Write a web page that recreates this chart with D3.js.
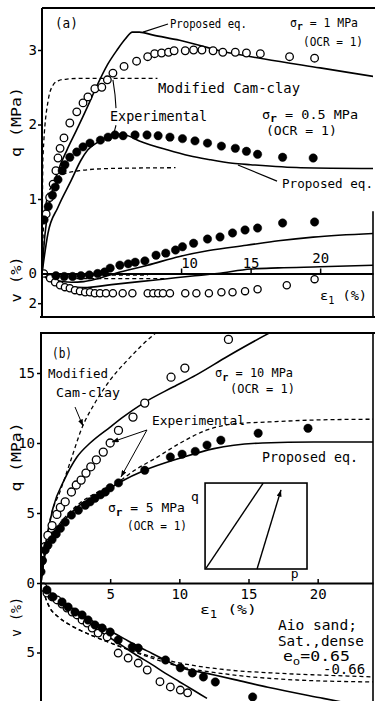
<!DOCTYPE html>
<html><head><meta charset="utf-8">
<script src="https://cdn.jsdelivr.net/npm/d3@7"></script>
<style>
body{margin:0;background:#fff;}
svg{display:block;background:#fff;}
text{font-family:"DejaVu Sans Mono","Liberation Mono",monospace;fill:#000;}
</style></head><body>
<svg id="c" width="375" height="701"></svg>
<script>
// ---------------- DATA ----------------
// Panel (a): q and v vs eps1
const aEpsTicks=[10,15,20], aQTicks=[1,2,3], aVTicks=[0,2];
// sigma_r = 1 MPa, experimental (open)
const aOpenEps=[0.3,0.55,0.8,1.0,1.15,1.3,1.58,2.0,2.5,2.95,3.3,3.8,4.3,4.7,5.1,5.9,6.8,7.6,8.1,8.6,9.1,9.5,10.3,10.9,11.5,12.3,13.0,13.9,14.7,15.7,17.8,19.6];
const aOpenQ=[0.8,1.02,1.2,1.38,1.55,1.68,1.82,2.02,2.17,2.29,2.37,2.48,2.5,2.6,2.69,2.78,2.85,2.91,2.95,2.96,2.97,2.99,2.99,3.0,3.0,2.99,2.97,2.97,2.96,2.95,2.91,2.89];
const aOpenVEps=[0.14,0.58,0.94,1.3,1.65,2.0,2.37,2.73,3.1,3.45,3.8,4.17,4.6,5.1,5.8,6.5,7.6,8.0,8.35,8.7,9.2,10.3,11.1,12.0,12.9,13.7,14.6,15.5,17.6,19.6];
const aOpenV=[0,0.32,0.59,0.79,0.92,0.99,1.12,1.19,1.26,1.26,1.33,1.33,1.33,1.33,1.33,1.33,1.33,1.33,1.33,1.33,1.33,1.33,1.33,1.33,1.26,1.26,1.19,1.06,0.79,0.38];
// sigma_r = 0.5 MPa, experimental (filled)
const aFillEps=[0.15,0.45,0.75,0.95,1.15,1.45,1.65,2.0,2.5,2.95,3.45,4.2,4.75,5.25,5.83,6.69,7.55,8.35,9.2,10.1,11.0,11.9,12.9,13.9,14.7,15.5,17.3,19.5];
const aFillQ=[0.72,0.9,1.05,1.16,1.26,1.38,1.46,1.56,1.63,1.70,1.75,1.79,1.83,1.86,1.85,1.86,1.86,1.85,1.83,1.81,1.78,1.75,1.71,1.68,1.64,1.60,1.56,1.55];
const aFillVEps=[1.0,1.6,2.2,2.8,3.4,4.0,4.5,4.9,5.6,6.2,6.7,7.4,8.2,8.9,9.6,10.1,10.9,11.9,12.8,13.7,14.6,15.5,17.3,19.6];
const aFillV=[0.15,0.2,0.2,0.15,0.1,0.0,-0.1,-0.36,-0.56,-0.65,-0.76,-0.85,-1.23,-1.37,-1.58,-1.8,-2.04,-2.32,-2.46,-2.73,-2.93,-3.06,-3.4,-3.47];
// proposed eq. (solid)
const aProp1Eps=[0,0.2,0.6,1.2,1.8,2.5,3.3,3.9,4.7,5.4,6.0,6.5,7.0,8,9.9,13,16,20,24];
const aProp1Q=[0,0.5,1.0,1.4,1.66,1.93,2.25,2.5,2.8,3.0,3.15,3.24,3.24,3.2,3.13,2.98,2.88,2.76,2.64];
const aProp05Eps=[0,0.43,1.15,2.1,2.8,3.3,4.0,4.7,5.4,6.0,7.0,9.0,10.6,12,13.7,15,18.6,24];
const aProp05Q=[0,0.54,0.89,1.25,1.52,1.66,1.76,1.83,1.87,1.86,1.78,1.66,1.58,1.53,1.48,1.46,1.42,1.41];
const aProp1VEps=[0,0.5,1,2,3,5,7,9,11,12.6,15,17,20,24];
const aProp1V=[0,0.45,0.7,0.92,0.95,0.75,0.55,0.35,0.15,0,-0.3,-0.38,-0.45,-0.56];
const aProp05VEps=[0,0.5,1,2.1,3,4,5.25,6.5,7.6,9.9,12,14.7,17,19.5,24];
const aProp05V=[0,0.3,0.45,0.59,0.55,0.35,0,-0.3,-0.56,-1.15,-1.55,-1.9,-2.2,-2.45,-2.7];
// modified Cam-clay (dashed)
const aCam1Eps=[0,0.07,0.45,0.8,1.2,1.8,3,5,8.3];
const aCam1Q=[0,1.56,2.33,2.53,2.59,2.61,2.62,2.62,2.62];
const aCam05Eps=[0,0.1,0.3,0.7,1.2,1.65,2.7,5,9.6];
const aCam05Q=[0,0.6,0.95,1.18,1.3,1.34,1.38,1.41,1.42];
const aCam1VEps=[0,0.5,1,2,3,5,9.0];
const aCam1V=[0,0.2,0.28,0.33,0.35,0.35,0.35];
const aCam05VEps=[0,0.5,1,2,4,7.6];
const aCam05V=[0,0.06,0.08,0.1,0.1,0.1];

// Panel (b)
const bEpsTicks=[5,10,15,20], bQTicks=[0,5,10,15], bVTicks=[5];
const bOpenEps=[0.07,0.3,0.5,0.8,1.15,1.4,1.75,2.2,2.55,2.9,3.25,3.6,4.0,4.5,5.0,5.6,6.65,7.5,9.4,10.4,13.55];
const bOpenQ=[1.6,2.6,3.4,4.1,4.9,5.4,5.8,6.5,7.0,7.35,7.85,8.3,8.8,9.35,10.0,10.9,11.85,12.85,14.7,15.35,17.4];
const bFillEps=[0.0,0.1,0.3,0.5,0.8,1.1,1.4,1.75,2.2,2.7,3.2,3.55,3.9,4.3,4.65,5.0,5.6,7.5,9.35,10.2,11.15,12.0,13.0,15.7,19.3];
const bFillQ=[0.8,1.6,2.35,2.7,3.1,3.5,3.9,4.35,4.85,5.2,5.55,5.8,6.05,6.3,6.5,6.8,7.15,8.05,9.0,9.2,9.4,9.85,10.2,10.7,11.05];
const bOpenVEps=[0.15,0.43,0.8,1.16,1.52,1.88,2.25,2.6,2.97,3.33,3.7,4.13,4.78,5.58,6.3,7.03,7.68,8.6,9.35,10.07,10.6];
const bOpenV=[0.29,0.72,1.0,1.22,1.51,1.8,2.09,2.3,2.66,2.88,3.24,3.6,3.88,5.04,5.4,5.76,6.26,7.1,7.48,7.7,7.9];
const bFillVEps=[0.43,0.87,1.52,1.96,2.46,2.97,3.4,3.9,4.42,5.0,5.58,6.6,7.03,9.0,10.07,10.94,11.74,12.6,15.3];
const bFillV=[0.5,1.0,1.37,1.73,2.09,2.3,2.66,3.02,3.24,3.53,4.1,4.6,4.68,5.54,6.1,6.47,6.76,7.12,8.2];
const bProp10Eps=[0,0.3,0.87,1.7,2.6,3.55,5,6,7.4,9.55,11.2,13.5,16.6,18];
const bProp10Q=[0,2.5,5.36,7.4,9.0,10.0,11.14,11.9,12.85,14.0,14.85,16.2,17.9,18.6];
const bProp5Eps=[0,0.2,0.5,1.4,2.8,4.3,5.7,7.5,10.1,12.5,16,19.7,24.2];
const bProp5Q=[0,1.5,2.86,4.14,5.57,6.36,7.2,8.05,8.93,9.6,10.0,10.07,10.07];
const bCam10Eps=[0,0.3,0.65,1.4,2.1,2.97,3.9,5.0,6.23,7.17,8.3,9];
const bCam10Q=[0,2.5,4.5,6.6,8.6,11.1,12.86,14.5,15.9,16.86,17.86,18.4];
const bCam5Eps=[0,0.2,0.5,1.4,2.8,4.3,5.7,6.8,8.3,10.07,12,13.9,16.4,19.7,24.2];
const bCam5Q=[0,1.6,3.0,4.3,5.7,6.6,7.3,8.07,8.93,10.0,10.93,11.36,11.5,11.64,11.7];
const bProp5VEps=[0,0.5,1,2,3,4,5,6,7,8,9,10,12,14,16.4,20.4,24];
const bProp5V=[0,0.6,1.1,1.75,2.3,2.9,3.45,4.0,4.55,5.05,5.55,6.05,6.5,6.95,7.5,8.3,9];
const bProp10VEps=[0,0.5,1,2,3,4,5,6,7,8,9,10,11,12];
const bProp10V=[0,0.8,1.25,1.95,2.6,3.3,3.95,4.6,5.25,5.85,6.5,7.1,7.7,8.3];
const bCamAVEps=[0,0.3,0.65,1.2,2.25,3.5,5,7,10,13,17.3,21,24.2];
const bCamAV=[0,1.0,1.8,2.4,3.1,3.7,4.3,5.0,5.75,6.2,6.5,6.65,6.76];
const bCamBVEps=[0,0.3,0.65,1.2,2.25,3.5,5,7,10,13,18.5,24.2];
const bCamBV=[0,1.0,1.8,2.4,3.1,3.7,4.3,5.05,6.0,6.5,6.98,7.12];

// ---------------- DRAWING ----------------
const svg=d3.select('#c');
const FONT='"DejaVu Sans Mono","Liberation Mono",monospace';
const xA=d3.scaleLinear().domain([0,23.8]).range([42,373]);
const qA=d3.scaleLinear().domain([0,3]).range([273.5,50]);
const vA=d3.scaleLinear().domain([0,2]).range([273.5,303.2]);
const xB=d3.scaleLinear().domain([0,24]).range([41,373]);
const qB=d3.scaleLinear().domain([0,15]).range([583,373]);
const vB=d3.scaleLinear().domain([0,5]).range([583,652.5]);
const topA=8, botA=317, topB=333, botB=701;
const fmt=d3.format('d');

const defs=svg.append('defs');
defs.append('clipPath').attr('id','clA').append('rect')
  .attr('x',xA(0)).attr('y',topA).attr('width',xA.range()[1]-xA(0)).attr('height',botA-topA);
defs.append('clipPath').attr('id','clB').append('rect')
  .attr('x',xB(0)).attr('y',topB).attr('width',xB.range()[1]-xB(0)).attr('height',botB-topB);
defs.append('marker').attr('id','arr').attr('viewBox','0 0 8 6').attr('refX',8).attr('refY',3)
  .attr('markerWidth',7).attr('markerHeight',5).attr('markerUnits','userSpaceOnUse').attr('orient','auto')
  .append('path').attr('d','M0,0L8,3L0,6z').attr('fill','#000');

const gA=svg.append('g').attr('clip-path','url(#clA)');
const gB=svg.append('g').attr('clip-path','url(#clB)');

function curve(g,xs,ys,xs_,ys_,dashed){
  const pts=xs.map((e,i)=>[e,ys[i]]);
  g.append('path').datum(pts)
    .attr('d',d3.line().x(d=>xs_(d[0])).y(d=>ys_(d[1])).curve(d3.curveMonotoneX))
    .attr('fill','none').attr('stroke','#000').attr('stroke-width',dashed?1.3:1.6)
    .attr('stroke-dasharray',dashed?'4,3':null);
}
function dots(g,xs,ys,xs_,ys_,filled,r){
  g.selectAll(null).data(xs.map((e,i)=>[e,ys[i]])).enter().append('circle')
    .attr('cx',d=>xs_(d[0])).attr('cy',d=>ys_(d[1])).attr('r',r)
    .attr('fill',filled?'#000':'#fff').attr('stroke','#000').attr('stroke-width',filled?0.5:1.3);
}
function seg(g,p,xs_,ys_,arrow,w){
  g.append('path').datum(p).attr('d',d3.line().x(d=>xs_(d[0])).y(d=>ys_(d[1])))
   .attr('fill','none').attr('stroke','#000').attr('stroke-width',w||1.1)
   .attr('marker-end',arrow?'url(#arr)':null);
}
function txt(x,y,s,size,len,anchor){
  const t=svg.append('text').attr('x',x).attr('y',y).attr('font-size',size).attr('text-anchor',anchor||'start').text(s);
  if(len) t.attr('textLength',len).attr('lengthAdjust','spacingAndGlyphs');
  return t;
}
function subTxt(x,y,a,sub,rest,size,len,bold=true){
  const t=svg.append('text').attr('x',x).attr('y',y).attr('font-size',size);
  t.append('tspan').text(a);
  t.append('tspan').attr('dy',size*0.28).attr('font-size',size*(bold?0.85:0.75)).attr('font-weight',bold?'bold':null).text(sub);
  t.append('tspan').attr('dy',-size*0.28).text(rest);
  if(len) t.attr('textLength',len).attr('lengthAdjust','spacingAndGlyphs');
  return t;
}
function rotTxt(x,y,s,size,len){
  svg.append('text').attr('transform',`translate(${x},${y}) rotate(-90)`).attr('text-anchor','middle')
    .attr('font-size',size).attr('textLength',len).attr('lengthAdjust','spacingAndGlyphs').text(s);
}
function styleAxis(g,size){
  g.attr('font-family',FONT).attr('font-size',size);
  g.selectAll('line').attr('stroke','#000').attr('stroke-width',1.5);
  g.selectAll('path.domain').attr('stroke','#000').attr('stroke-width',1.8);
  g.selectAll('text').attr('fill','#000');
}

// ---- Panel (a) curves
curve(gA,aCam1Eps,aCam1Q,xA,qA,true);
curve(gA,aCam05Eps,aCam05Q,xA,qA,true);
curve(gA,aCam1VEps,aCam1V,xA,vA,true);
curve(gA,aCam05VEps,aCam05V,xA,vA,true);
curve(gA,aProp1Eps,aProp1Q,xA,qA,false);
curve(gA,aProp05Eps,aProp05Q,xA,qA,false);
curve(gA,aProp1VEps,aProp1V,xA,vA,false);
curve(gA,aProp05VEps,aProp05V,xA,vA,false);
dots(gA,aOpenEps,aOpenQ,xA,qA,false,3.8);
dots(gA,aOpenVEps,aOpenV,xA,vA,false,3.6);
dots(gA,aFillEps,aFillQ,xA,qA,true,4.2);
dots(gA,aFillVEps,aFillV,xA,vA,true,4.2);

// ---- Panel (a) axes
const axAx=svg.append('g').attr('transform',`translate(0,${qA(0)})`)
  .call(d3.axisTop(xA).tickValues(aEpsTicks).tickFormat(fmt).tickSizeInner(5).tickSizeOuter(0).tickPadding(1));
styleAxis(axAx,14);
axAx.selectAll('.tick text').attr('dx',d=>d===10?8:0).attr('dy',d=>d===20?-5:0);
const axAq=svg.append('g').attr('transform',`translate(${xA(0)},0)`)
  .call(d3.axisLeft(qA).tickValues(aQTicks).tickFormat(fmt).tickSize(4).tickPadding(1));
styleAxis(axAq,14); axAq.select('.domain').remove();
const axAv=svg.append('g').attr('transform',`translate(${xA(0)},0)`)
  .call(d3.axisLeft(vA).tickValues(aVTicks).tickFormat(fmt).tickSize(4).tickPadding(1));
styleAxis(axAv,14); axAv.select('.domain').remove();
axAv.selectAll('.tick line').filter(d=>d===0).remove();

// frame (a)
const frame=(x1,y1,x2,y2,w)=>svg.append('line').attr('x1',x1).attr('y1',y1).attr('x2',x2).attr('y2',y2)
  .attr('stroke','#000').attr('stroke-width',w||2);
frame(xA(0),topA,375,topA,2.2);
frame(xA(0),topA,xA(0),botA,2);
frame(40,botA,375,botA,2.2);
frame(373,vA(-4.2),373,botA,1.6);

// ---- Panel (a) labels
txt(xA(0.93),qA(3.295),'(a)',14,23);
txt(xA(9.2),qA(3.30),'Proposed eq.',13,77);
seg(svg,[[7.26,3.24],[9.06,3.35]],xA,qA,false);
subTxt(xA(17.83),qA(3.31),'σ','r',' = 1 MPa',12,68);
txt(xA(18.77),qA(3.05),'(OCR = 1)',12,60);
txt(xA(8.34),qA(2.42),'Modified Cam-clay',13.5,142);
txt(xA(4.89),qA(2.05),'Experimental',13.5,97);
seg(svg,[[5.32,2.22],[5.25,2.4],[5.1,2.6]],xA,qA,false);
seg(svg,[[5.32,1.99],[5.18,1.89]],xA,qA,false);
subTxt(xA(15.82),qA(2.075),'σ','r',' = 0.5 MPa',12,96);
txt(xA(16.1),qA(1.86),'(OCR = 1)',12,71);
txt(xA(17.26),qA(1.148),'Proposed eq.',13,91);
seg(svg,[[14.09,1.456],[16.9,1.24]],xA,qA,false);
subTxt(xA(19.99),vA(1.785),'ε','1','  (%)',13,47,false);
rotTxt(21,qA(2.034),'q  (MPa)',14,70);
rotTxt(21,vA(0.4),'v (%)',14,46);

// ---- Panel (b) curves
curve(gB,bCam10Eps,bCam10Q,xB,qB,true);
curve(gB,bCam5Eps,bCam5Q,xB,qB,true);
curve(gB,bCamAVEps,bCamAV,xB,vB,true);
curve(gB,bCamBVEps,bCamBV,xB,vB,true);
curve(gB,bProp10Eps,bProp10Q,xB,qB,false);
curve(gB,bProp5Eps,bProp5Q,xB,qB,false);
curve(gB,bProp10VEps,bProp10V,xB,vB,false);
curve(gB,bProp5VEps,bProp5V,xB,vB,false);
dots(gB,bOpenEps,bOpenQ,xB,qB,false,4);
dots(gB,bOpenVEps,bOpenV,xB,vB,false,3.8);
dots(gB,bFillEps,bFillQ,xB,qB,true,4.2);
dots(gB,bFillVEps,bFillV,xB,vB,true,4.2);

// ---- Panel (b) axes
const axBx=svg.append('g').attr('transform',`translate(0,${qB(0)})`)
  .call(d3.axisBottom(xB).tickValues(bEpsTicks).tickFormat(fmt).tickSizeInner(-4).tickSizeOuter(0).tickPadding(6));
styleAxis(axBx,14);
const axBq=svg.append('g').attr('transform',`translate(${xB(0)},0)`)
  .call(d3.axisLeft(qB).tickValues(bQTicks).tickFormat(fmt).tickSize(4).tickPadding(2));
styleAxis(axBq,14); axBq.select('.domain').remove();
const axBv=svg.append('g').attr('transform',`translate(${xB(0)},0)`)
  .call(d3.axisLeft(vB).tickValues(bVTicks).tickFormat(fmt).tickSize(4).tickPadding(2));
styleAxis(axBv,14); axBv.select('.domain').remove();

// frame (b)
frame(40,topB,375,topB,2.2);
frame(xB(0),topB,xB(0),botB,2);
frame(373,topB,373,botB,1.6);

// ---- Panel (b) labels
txt(xB(0.795),qB(16.07),'(b)',14,20);
txt(xB(0.506),qB(14.64),'Modified',13,60);
txt(xB(1.084),qB(13.29),'Cam-clay',13,64);
seg(svg,[[2.458,12.57],[3.036,11.21]],xB,qB,true,1);
txt(xB(8.02),qB(11.29),'Experimental',13,93);
seg(svg,[[7.66,10.93],[5.13,10.07]],xB,qB,true,1);
seg(svg,[[7.66,10.93],[5.78,7.57]],xB,qB,true,1);
subTxt(xB(12.58),qB(14.71),'σ','r',' = 10 MPa',13,78);
txt(xB(13.66),qB(13.57),'(OCR = 1)',13,65);
txt(xB(15.98),qB(8.64),'Proposed eq.',13.5,96);
subTxt(xB(4.84),qB(5.07),'σ','r',' = 5 MPa',13,77);
txt(xB(6.22),qB(3.79),'(OCR = 1)',13,60);
subTxt(xB(11.49),vB(2.23),'ε','1','  (%)',13,57,false);
txt(xB(17.13),vB(3.38),'Aio sand;',13.5,79);
txt(xB(17.13),vB(4.53),'Sat.,dense',13.5,86);
subTxt(xB(17.49),vB(5.6),'e','o','=0.65',13.5,67,false);
txt(xB(20.39),vB(6.55),'-0.66',13.5,42);
rotTxt(21,qB(9.0),'q  (MPa)',14,69);
rotTxt(21,vB(2.45),'v (%)',14,40);

// ---- inset (p-q stress path sketch)
const ix=d3.scaleLinear().domain([0,1]).range([xB(11.86),xB(19.23)]);
const iy=d3.scaleLinear().domain([0,1]).range([qB(1.0),qB(7.14)]);
svg.append('rect').attr('x',ix(0)).attr('y',iy(1)).attr('width',ix(1)-ix(0)).attr('height',iy(0)-iy(1))
  .attr('fill','#fff').attr('stroke','#000').attr('stroke-width',1.6);
seg(svg,[[0.01,0.01],[0.57,1.0]],ix,iy,false,1.4);
seg(svg,[[0.51,0.0],[0.745,0.92]],ix,iy,true,1.4);
txt(ix(-0.1),iy(0.79),'q',13,null,'middle');
txt(ix(0.88),iy(-0.1),'p',13,null,'middle');
</script></body></html>
